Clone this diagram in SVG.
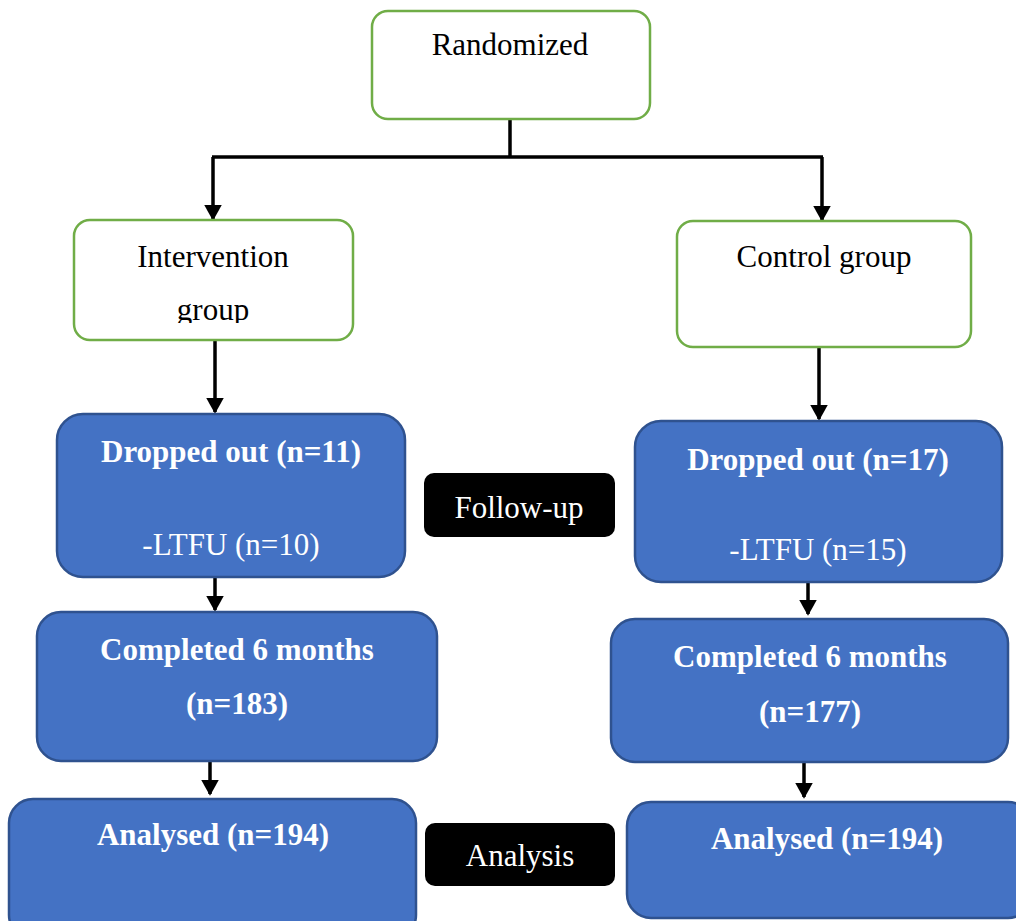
<svg xmlns="http://www.w3.org/2000/svg" width="1016" height="921" viewBox="0 0 1016 921">
<style>
.g{fill:#fff;stroke:#70AD47;stroke-width:2.5}
.b{fill:#4472C4;stroke:#2F528F;stroke-width:2.5}
.k{fill:#000}
text{font-family:'Liberation Serif','Times New Roman','DejaVu Serif',serif;font-size:31px;text-anchor:middle}
.dk{fill:#000}
.w{fill:#fff}
.bd{font-weight:bold}
.c{stroke:#000;stroke-width:3.5;fill:none}
</style>
<defs>
<marker id="ah" markerWidth="5" markerHeight="5" refX="4" refY="2.5" orient="auto" markerUnits="strokeWidth">
<path d="M0,0 L4.5,2.5 L0,5 Z" fill="#000"/>
</marker>
<clipPath id="clipI"><rect x="60" y="215" width="300" height="108"/></clipPath>
</defs>
<rect width="1016" height="921" fill="#fff"/>
<g id="connectors">
<path class="c" d="M510,119 V157"/>
<path class="c" d="M212,157 H823"/>
<path class="c" d="M213,157 V219" marker-end="url(#ah)"/>
<path class="c" d="M822,157 V220" marker-end="url(#ah)"/>
<path class="c" d="M215,340 V412" marker-end="url(#ah)"/>
<path class="c" d="M819,347 V419" marker-end="url(#ah)"/>
<path class="c" d="M215,577 V610" marker-end="url(#ah)"/>
<path class="c" d="M808,582 V614" marker-end="url(#ah)"/>
<path class="c" d="M210,761 V794" marker-end="url(#ah)"/>
<path class="c" d="M804,762 V797" marker-end="url(#ah)"/>
</g>
<g id="randomized">
<rect class="g" x="372" y="11" width="278" height="108" rx="16"/>
<text class="dk" x="510" y="55" font-family="Liberation Serif, serif">Randomized</text>
</g>
<g id="intervention">
<rect class="g" x="74" y="220" width="279" height="120" rx="16"/>
<text class="dk" x="213" y="267">Intervention</text>
<text class="dk" x="213" y="320" clip-path="url(#clipI)">group</text>
</g>
<g id="control">
<rect class="g" x="677" y="221" width="294" height="126" rx="16"/>
<text class="dk" x="824" y="267">Control group</text>
</g>
<g id="dropped-left">
<rect class="b" x="57" y="414" width="348" height="163" rx="26"/>
<text class="w bd" x="231" y="462">Dropped out (n=11)</text>
<text class="w" x="231" y="555">-LTFU (n=10)</text>
</g>
<g id="followup">
<rect class="k" x="424" y="473" width="191" height="64" rx="10"/>
<text class="w" x="519" y="518">Follow-up</text>
</g>
<g id="dropped-right">
<rect class="b" x="635" y="421" width="367" height="161" rx="26"/>
<text class="w bd" x="818" y="470">Dropped out (n=17)</text>
<text class="w" x="818" y="560">-LTFU (n=15)</text>
</g>
<g id="completed-left">
<rect class="b" x="37" y="612" width="400" height="149" rx="24"/>
<text class="w bd" x="237" y="660">Completed 6 months</text>
<text class="w bd" x="237" y="714">(n=183)</text>
</g>
<g id="completed-right">
<rect class="b" x="611" y="619" width="397" height="143" rx="24"/>
<text class="w bd" x="810" y="667">Completed 6 months</text>
<text class="w bd" x="810" y="722">(n=177)</text>
</g>
<g id="analysed-left">
<rect class="b" x="9" y="799" width="407" height="140" rx="24"/>
<text class="w bd" x="213" y="845">Analysed (n=194)</text>
</g>
<g id="analysis">
<rect class="k" x="425" y="823" width="190" height="63" rx="10"/>
<text class="w" x="520" y="866">Analysis</text>
</g>
<g id="analysed-right">
<rect class="b" x="627" y="802" width="405" height="116" rx="24"/>
<text class="w bd" x="827" y="849">Analysed (n=194)</text>
</g>
</svg>
